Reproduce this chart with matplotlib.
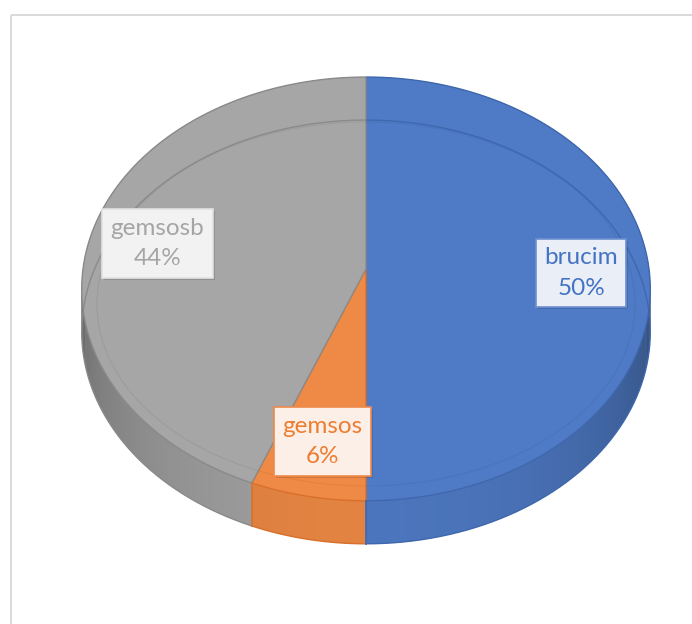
import matplotlib.pyplot as plt
import numpy as np
from matplotlib.patches import Polygon, Rectangle
from matplotlib.colors import to_rgb
import matplotlib.patheffects as pe

# slice data (clockwise from 12 o'clock)
labels = ['brucim', 'gemsos', 'gemsosb']
values = [50, 6, 44]

top_colors = ['#4f7bc6', '#ee8a45', '#a6a6a6']
edge_colors = ['#3f67ad', '#d8702c', '#8a8a8a']
text_colors = ['#4472c4', '#ed7d31', '#a5a5a5']
box_fills = ['#e9eef7', '#fcefe7', '#f2f2f2']
box_edges = ['#6f90d2', '#ef8a4a', '#e2e2e2']

W, H = 692, 624
fig = plt.figure(figsize=(W / 100, H / 100), dpi=100)
ax = fig.add_axes([0, 0, 1, 1])
ax.set_xlim(0, W)
ax.set_ylim(H, 0)
ax.axis('off')

# chart area frame
ax.add_patch(Rectangle((10.5, 14.5), 800, 800, fill=False, ec='#d9d9d9', lw=1.4))

# perspective projection of the pie's top disc
cx, cy = 366, 269
a, b, k = 283, 210, 0.094
depth = 43


def proj(theta, r=1.0):
    u = r * np.sin(theta)
    v = r * np.cos(theta)
    w = 1 + k * v
    return cx + a * u / w, cy - b * v / w


fracs = np.array(values, dtype=float) / sum(values)
bounds = np.concatenate([[0], np.cumsum(fracs)]) * 2 * np.pi

# side walls, shaded by direction (overlapping strips avoid seams)
for i in range(len(values)):
    t0, t1 = bounds[i], bounds[i + 1]
    n = max(int((t1 - t0) / 0.01), 2)
    ts = np.linspace(t0, t1, n + 1)
    base = np.array(to_rgb(top_colors[i]))
    for j in range(n):
        tm = 0.5 * (ts[j] + ts[j + 1])
        shade = np.clip(0.62 + 0.33 * (-np.cos(tm)), 0.62, 0.95)
        if abs(np.sin(tm)) > 0.97:
            shade *= 0.9
        x0, y0 = proj(ts[j])
        x1, y1 = proj(ts[min(j + 2, n)])
        quad = [(x0, y0), (x1, y1), (x1, y1 + depth), (x0, y0 + depth)]
        ax.add_patch(Polygon(quad, closed=True, fc=base * shade, lw=0))
    xs, ys = proj(ts)
    ax.plot(xs, ys + depth, color=edge_colors[i], lw=1.0)

# vertical seams on the front of the wall
for i in range(len(values)):
    t = bounds[i + 1]
    if np.pi / 2 < t % (2 * np.pi) < 3 * np.pi / 2:
        x, y = proj(t)
        ax.plot([x, x], [y, y + depth], color=edge_colors[i], lw=1.2)

# top faces
tops = []
for i in range(len(values)):
    ts = np.linspace(bounds[i], bounds[i + 1], 200)
    xs, ys = proj(ts)
    pts = [(cx, cy)] + list(zip(xs, ys))
    poly = Polygon(pts, closed=True, fc=top_colors[i], ec=edge_colors[i], lw=1.0)
    ax.add_patch(poly)
    tops.append(poly)

# bevel line on the top face
ang = np.linspace(0, 2 * np.pi, 400)
bx = 366 + 269 * np.sin(ang)
by = 304 - 182 * np.cos(ang)
for i, poly in enumerate(tops):
    ln, = ax.plot(bx, by, color=edge_colors[i], lw=0.8, alpha=0.35)
    ln.set_clip_path(poly)

# data labels
for i in range(len(values)):
    tm = 0.5 * (bounds[i] + bounds[i + 1])
    lx, ly = proj(tm, 0.76)
    txt = ax.text(lx, ly + 4, f"{labels[i]}\n{values[i]}%", ha='center', va='center',
                  multialignment='center', fontsize=17.5, family='Lato',
                  color=text_colors[i], linespacing=1.55,
                  bbox=dict(boxstyle='square,pad=0.35', fc=box_fills[i],
                            ec=box_edges[i], lw=1.2))
    txt.get_bbox_patch().set_path_effects(
        [pe.SimplePatchShadow(offset=(1.5, -1.5), shadow_rgbFace='k', alpha=0.12),
         pe.Normal()])

fig.savefig('out.png', dpi=100)
